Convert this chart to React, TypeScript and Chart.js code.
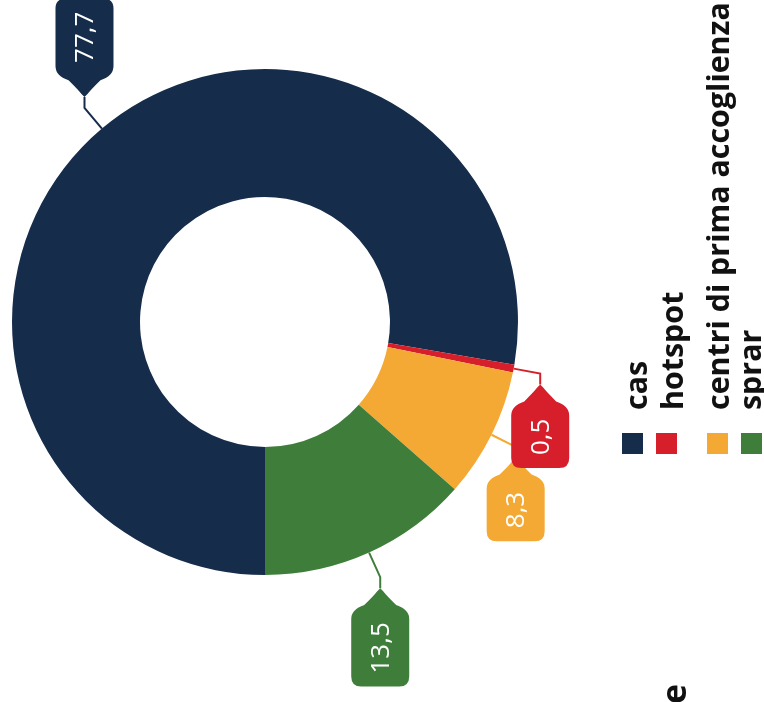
import React, { useEffect, useRef } from "react";
import { Chart, registerables } from "chart.js";

Chart.register(...registerables);

const categories = ["cas", "hotspot", "centri di prima accoglienza", "sprar"];
const values = [77.7, 0.5, 8.3, 13.5];
const valueLabels = ["77,7", "0,5", "8,3", "13,5"];
const colors = ["#162c4b", "#d61f2b", "#f5a935", "#3f7e3a"];
const titleFragment = "e";

const W = 764;
const H = 702;

function tagPath(ctx: CanvasRenderingContext2D, tipX: number, tipY: number, dir: number, bodyLen: number) {
  const w = 58;
  const ph = 21;
  const r = 10;
  const hw = w / 2;
  const P = (u: number, v: number): [number, number] => [tipX + u, tipY + dir * v];
  ctx.beginPath();
  ctx.moveTo(...P(0, 0));
  ctx.lineTo(...P(-3, 3));
  ctx.quadraticCurveTo(...P(-6, 7), ...P(-hw * 0.55, ph * 0.8));
  ctx.quadraticCurveTo(...P(-hw, ph), ...P(-hw, ph + r));
  ctx.lineTo(...P(-hw, ph + bodyLen - r));
  ctx.quadraticCurveTo(...P(-hw, ph + bodyLen), ...P(-hw + r, ph + bodyLen));
  ctx.lineTo(...P(hw - r, ph + bodyLen));
  ctx.quadraticCurveTo(...P(hw, ph + bodyLen), ...P(hw, ph + bodyLen - r));
  ctx.lineTo(...P(hw, ph + r));
  ctx.quadraticCurveTo(...P(hw, ph), ...P(hw * 0.55, ph * 0.8));
  ctx.quadraticCurveTo(...P(6, 7), ...P(3, 3));
  ctx.closePath();
}

const calloutPlugin = {
  id: "callouts",
  afterDraw(chart: any) {
    const ctx: CanvasRenderingContext2D = chart.ctx;
    const meta = chart.getDatasetMeta(0);
    const order = [0, 3, 2, 1];
    ctx.save();
    ctx.font = "400 26px 'Open Sans'";
    for (const i of order) {
      const arc = meta.data[i];
      const { x, y, startAngle, endAngle, outerRadius } = arc.getProps(
        ["x", "y", "startAngle", "endAngle", "outerRadius"],
        true
      );
      const mid = (startAngle + endAngle) / 2;
      const c = Math.cos(mid);
      const s = Math.sin(mid);
      const x1 = x + c * outerRadius;
      const y1 = y + s * outerRadius;
      const x2 = x + c * (outerRadius + 27);
      const y2 = y + s * (outerRadius + 27);
      const dir = s < 0 ? -1 : 1;
      const tipY = y2 + dir * 11;
      ctx.strokeStyle = colors[i];
      ctx.lineWidth = 2;
      ctx.beginPath();
      ctx.moveTo(x1, y1);
      ctx.lineTo(x2, y2);
      ctx.lineTo(x2, tipY);
      ctx.stroke();

      const tw = ctx.measureText(valueLabels[i]).width;
      const bodyLen = tw + 26;
      tagPath(ctx, x2, tipY, dir, bodyLen);
      ctx.fillStyle = colors[i];
      ctx.fill();

      const cy = tipY + dir * (21 + bodyLen / 2);
      ctx.save();
      ctx.translate(x2, cy);
      ctx.rotate(-Math.PI / 2);
      ctx.fillStyle = "#ffffff";
      ctx.textAlign = "center";
      ctx.textBaseline = "middle";
      ctx.fillText(valueLabels[i], 0, 1);
      ctx.restore();
    }

    // legend (rotated)
    const sqX = [622, 656, 707, 741];
    const baseX = [647, 683, 729, 761];
    ctx.font = "700 30.4px 'Open Sans'";
    categories.forEach((cat, i) => {
      ctx.fillStyle = colors[i];
      ctx.fillRect(sqX[i], 433, 21, 21);
      ctx.save();
      ctx.translate(baseX[i], 410);
      ctx.rotate(-Math.PI / 2);
      ctx.fillStyle = "#111111";
      ctx.textAlign = "left";
      ctx.textBaseline = "alphabetic";
      ctx.fillText(cat, 0, 0);
      ctx.restore();
    });

    ctx.save();
    ctx.font = "700 34px 'Open Sans'";
    ctx.translate(686, 684);
    ctx.rotate(-Math.PI / 2);
    ctx.fillStyle = "#111111";
    ctx.textAlign = "right";
    ctx.textBaseline = "alphabetic";
    ctx.fillText(titleFragment, 0, 0);
    ctx.restore();

    ctx.restore();
  },
};

export default function App() {
  const ref = useRef<HTMLCanvasElement | null>(null);
  useEffect(() => {
    if (!ref.current) return;
    const chart = new Chart(ref.current, {
      type: "doughnut",
      data: {
        labels: categories,
        datasets: [
          {
            data: values,
            backgroundColor: colors,
            borderWidth: 0,
          },
        ],
      },
      options: {
        responsive: false,
        animation: false,
        rotation: 180,
        cutout: "49.4%",
        layout: { padding: { left: 12, top: 69, right: 246, bottom: 127 } },
        plugins: {
          legend: { display: false },
          tooltip: { enabled: false },
        },
      },
      plugins: [calloutPlugin],
    });
    return () => chart.destroy();
  }, []);
  return (
    <div style={{ position: "absolute", left: 0, top: 0, width: W, height: H, background: "#fff" }}>
      <canvas ref={ref} width={W} height={H} style={{ width: W, height: H, display: "block" }} />
    </div>
  );
}
